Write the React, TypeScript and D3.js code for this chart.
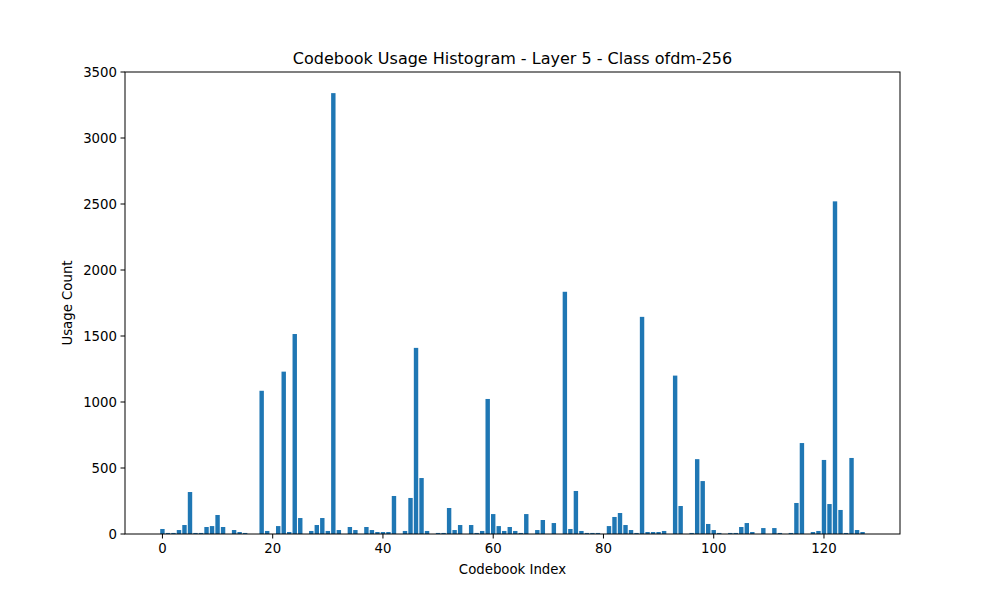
import * as d3 from 'd3';

// --- Data ---
const counts: number[] = [
    38, 8, 8, 30, 68, 318, 8, 8, 53, 60,
    144, 53, 0, 30, 15, 8, 0, 0, 1085, 23,
    0, 60, 1230, 15, 1515, 121, 0, 23, 68, 121,
    23, 3340, 30, 0, 53, 30, 0, 53, 30, 15,
    15, 15, 288, 0, 23, 273, 1410, 424, 23, 0,
    8, 8, 197, 30, 68, 0, 68, 8, 23, 1023,
    151, 60, 23, 53, 23, 8, 151, 0, 30, 106,
    0, 83, 0, 1835, 38, 326, 23, 8, 8, 8,
    0, 60, 129, 159, 68, 30, 8, 1645, 15, 15,
    15, 23, 0, 1200, 212, 0, 8, 567, 401, 76,
    30, 8, 0, 8, 8, 53, 83, 15, 0, 45,
    0, 45, 8, 0, 8, 235, 689, 0, 15, 23,
    561, 227, 2520, 182, 8, 576, 30, 15,
];
const xTicks = [0, 20, 40, 60, 80, 100, 120];
const yTicks = [0, 500, 1000, 1500, 2000, 2500, 3000, 3500];

const W = 1000, H = 600;
const left = 125, right = 900, top = 72, bottom = 534;
const font = 'DejaVu Sans, sans-serif';

export default function App() {
    const x = d3.scaleLinear().domain([-6.79, 133.79]).range([left, right]);
    const y = d3.scaleLinear().domain([0, 3500]).range([bottom, top]);
    const bw = x(0.8) - x(0);

    return (
        <svg width={W} height={H} style={{ position: 'absolute', top: 0, left: 0, background: '#fff' }} fontFamily={font}>
            <rect x={0} y={0} width={W} height={H} fill="#fff" />
            {counts.map((v, i) => (
                <rect key={i} x={x(i - 0.4)} y={y(v)} width={bw} height={bottom - y(v)} fill="#1f77b4" />
            ))}
            <rect x={left} y={top} width={right - left} height={bottom - top} fill="none" stroke="#000" strokeWidth={1} />
            {xTicks.map(t => (
                <g key={t}>
                    <line x1={x(t)} x2={x(t)} y1={bottom} y2={bottom + 4.5} stroke="#000" />
                    <text x={x(t)} y={bottom + 19} textAnchor="middle" fontSize={13.3}>{t}</text>
                </g>
            ))}
            {yTicks.map(t => (
                <g key={t}>
                    <line x1={left - 4.5} x2={left} y1={y(t)} y2={y(t)} stroke="#000" />
                    <text x={left - 8} y={y(t)} dy="0.35em" textAnchor="end" fontSize={13.3}>{t}</text>
                </g>
            ))}
            <text x={(left + right) / 2} y={574} textAnchor="middle" fontSize={13.3}>Codebook Index</text>
            <text transform={`translate(72,${(top + bottom) / 2}) rotate(-90)`} textAnchor="middle" fontSize={13.3}>Usage Count</text>
            <text x={(left + right) / 2} y={64} textAnchor="middle" fontSize={16}>Codebook Usage Histogram - Layer 5 - Class ofdm-256</text>
        </svg>
    );
}
